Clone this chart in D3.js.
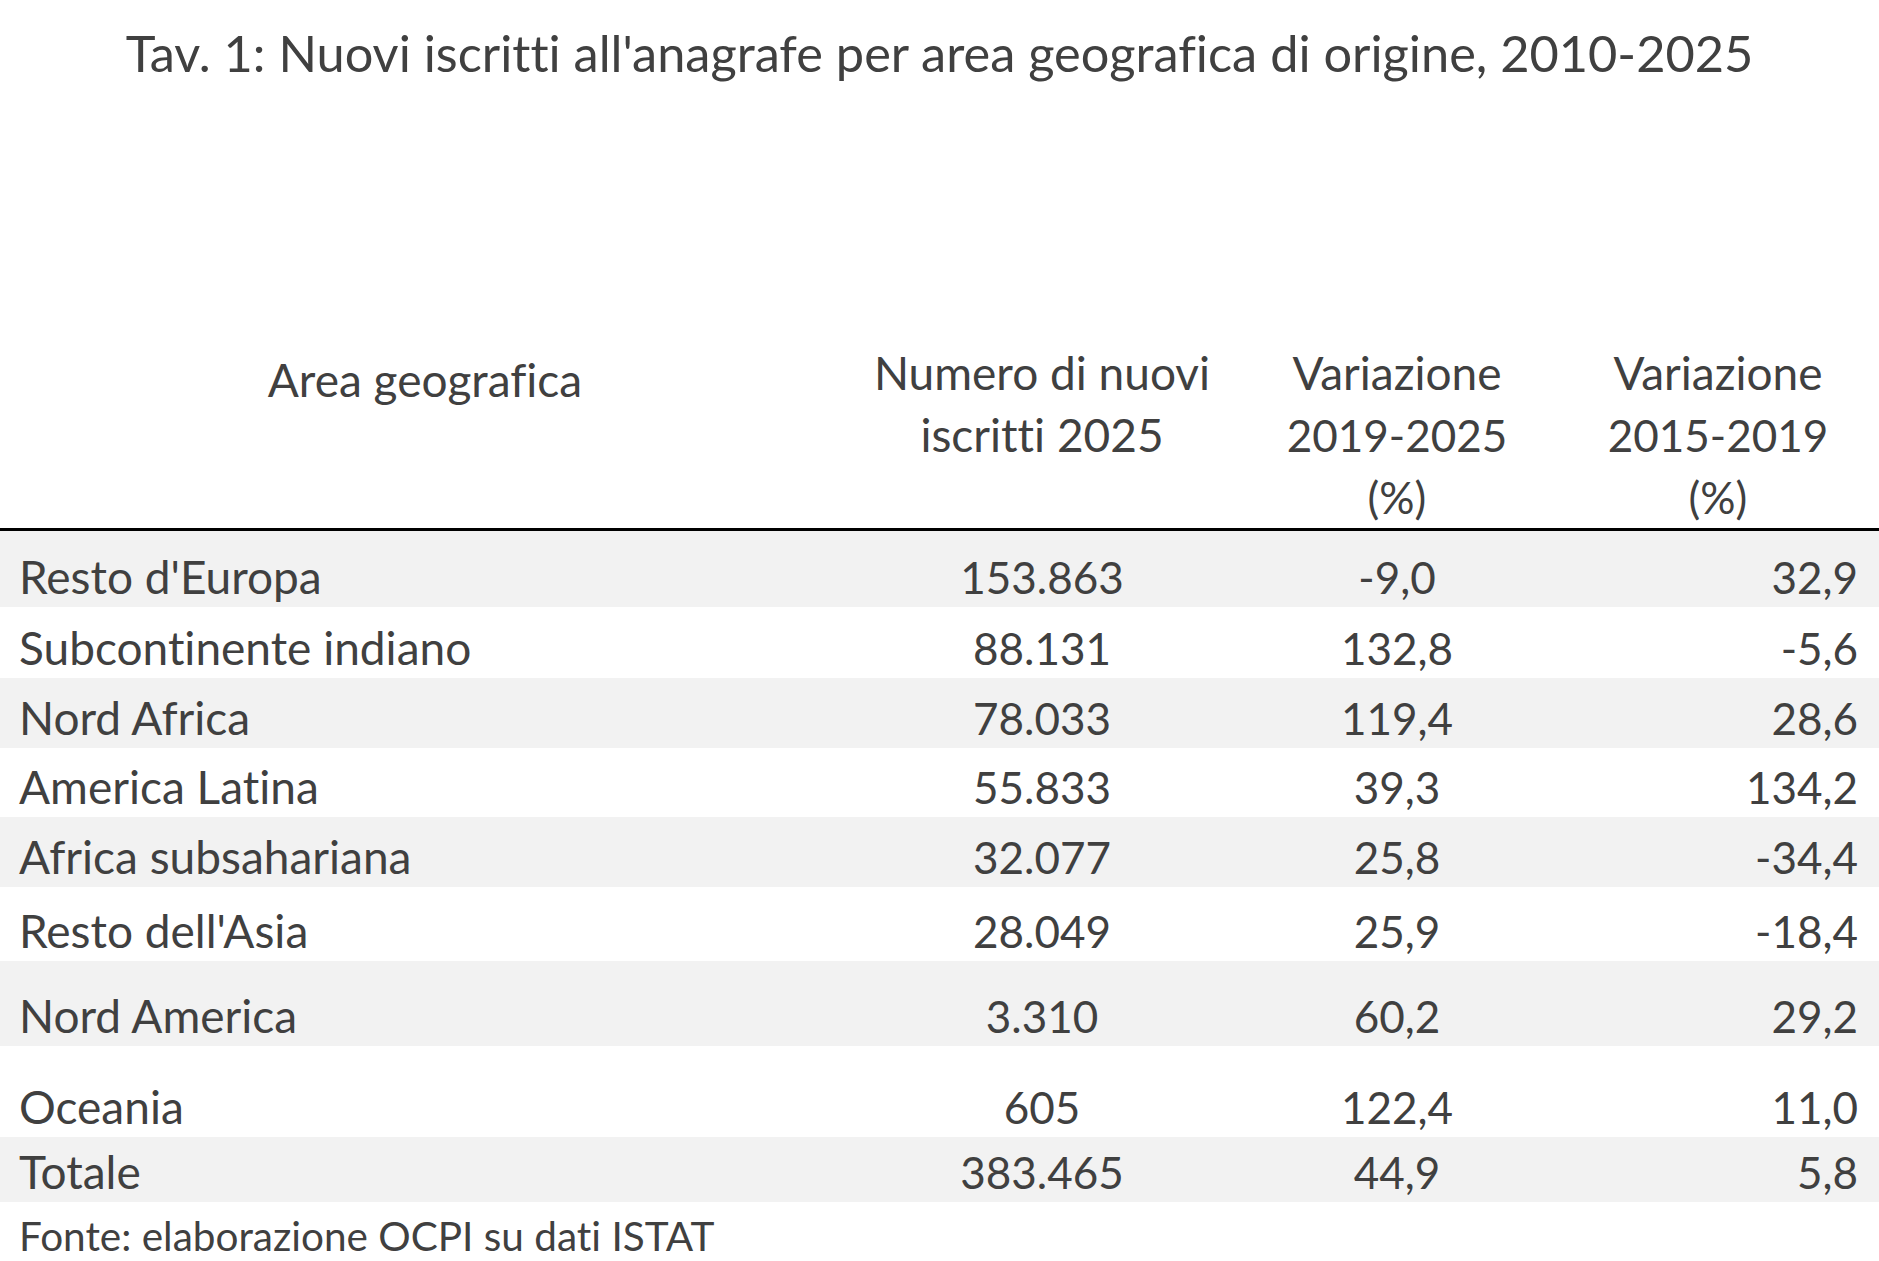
<!DOCTYPE html>
<html>
<head>
<meta charset="utf-8">
<script src="https://cdn.jsdelivr.net/npm/d3@7"></script>
<style>
  html, body { margin: 0; padding: 0; background: #fff; }
  svg { display: block; font-variant-ligatures: none; }
</style>
</head>
<body>
<div id="chart"></div>
<script>
const areas = ["Resto d'Europa", "Subcontinente indiano", "Nord Africa", "America Latina",
  "Africa subsahariana", "Resto dell'Asia", "Nord America", "Oceania", "Totale"];
const nuoviIscritti2025 = [153863, 88131, 78033, 55833, 32077, 28049, 3310, 605, 383465];
const variazione2019_2025 = [-9.0, 132.8, 119.4, 39.3, 25.8, 25.9, 60.2, 122.4, 44.9];
const variazione2015_2019 = [32.9, -5.6, 28.6, 134.2, -34.4, -18.4, 29.2, 11.0, 5.8];

const title = "Tav. 1: Nuovi iscritti all'anagrafe per area geografica di origine, 2010-2025";
const headers = [
  ["Area geografica"],
  ["Numero di nuovi", "iscritti 2025"],
  ["Variazione", "2019-2025", "(%)"],
  ["Variazione", "2015-2019", "(%)"]
];
const source = "Fonte: elaborazione OCPI su dati ISTAT";

// Layout
const width = 1879;
const height = 1261;
const rowHeights = [76, 71, 70, 69, 70, 74, 85, 91, 65];
const tableTop = 531;
const textColor = "#404040";
const font = "Lato, 'Open Sans', sans-serif";

const itFormat = d3.formatLocale({decimal: ",", thousands: ".", grouping: [3], currency: ["€", ""], minus: "-"});
const fmtInt = itFormat.format(",d");
const fmtPct = itFormat.format(".1f");

const rows = areas.map((a, i) => ({
  area: a,
  n: nuoviIscritti2025[i],
  v1: variazione2019_2025[i],
  v2: variazione2015_2019[i]
}));

// row tops from cumulative heights
const rowTop = [tableTop, ...d3.cumsum(rowHeights).map(h => tableTop + h)];

const svg = d3.select("#chart").append("svg")
  .attr("width", width)
  .attr("height", height)
  .style("font-family", font)
  .attr("fill", textColor);

// Title
svg.append("text")
  .attr("x", width / 2)
  .attr("y", 72)
  .attr("text-anchor", "middle")
  .attr("font-size", 50.5)
  .text(title);

// Column positions
const colX = [19, 1042, 1397, 1858];
const headerX = [425, 1042, 1397, 1718];

// Header
headers.forEach((lines, c) => {
  svg.append("text")
    .attr("text-anchor", "middle")
    .selectAll("tspan")
    .data(lines)
    .join("tspan")
      .attr("x", headerX[c])
      .attr("y", (d, i) => (c === 0 ? 397 : 390) + i * 62)
      .attr("font-size", d => /^[\d\-\(%\)]+$/.test(d) ? 44 : 46)
      .text(d => d);
});

// Alternating bands
svg.append("g")
  .selectAll("rect")
  .data(rows)
  .join("rect")
    .attr("x", 0)
    .attr("y", (d, i) => rowTop[i])
    .attr("width", width)
    .attr("height", (d, i) => rowHeights[i])
    .attr("fill", (d, i) => i % 2 === 0 ? "#f2f2f2" : "#ffffff");

// Header rule
svg.append("line")
  .attr("x1", 0)
  .attr("x2", width)
  .attr("y1", tableTop - 1.5)
  .attr("y2", tableTop - 1.5)
  .attr("stroke", "#000")
  .attr("stroke-width", 3);

// Cells
const row = svg.append("g")
  .attr("font-size", 44)
  .selectAll("g")
  .data(rows)
  .join("g")
    .attr("transform", (d, i) => `translate(0,${rowTop[i + 1] - 13})`);

row.append("text")
  .attr("x", colX[0])
  .attr("font-size", 46)
  .text(d => d.area);

row.append("text")
  .attr("x", colX[1])
  .attr("text-anchor", "middle")
  .text(d => fmtInt(d.n));

row.append("text")
  .attr("x", colX[2])
  .attr("text-anchor", "middle")
  .text(d => fmtPct(d.v1));

row.append("text")
  .attr("x", colX[3])
  .attr("text-anchor", "end")
  .text(d => fmtPct(d.v2));

// Source note
svg.append("text")
  .attr("x", 19)
  .attr("y", 1251)
  .attr("font-size", 40.5)
  .text(source);
</script>
</body>
</html>
